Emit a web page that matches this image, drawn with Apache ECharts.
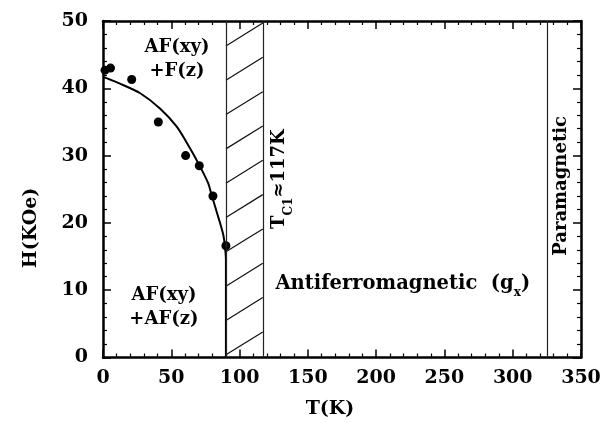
<!DOCTYPE html>
<html><head><meta charset="utf-8">
<script src="https://cdn.jsdelivr.net/npm/echarts@6/dist/echarts.min.js"></script>
<style>html,body{margin:0;padding:0;background:#fff}#chart{width:605px;height:423px}</style>
</head><body><div id="chart"></div>
<script>
// Measured critical field points, T in K, H in KOe
const measuredT = [1.5, 5.5, 21, 40.5, 60.5, 70.5, 80.5, 90];
const measuredH = [42.7, 43.0, 41.3, 35.0, 30.0, 28.5, 24.0, 16.6];
// Phase boundary between AF(xy)+F(z) and AF(xy)+AF(z)
const boundaryT = [0, 6.4, 12.4, 27, 41.7, 54, 63.7, 71, 77, 79.6, 85.1, 88.1, 89.3, 90, 90];
const boundaryH = [41.7, 41.2, 40.7, 39.3, 37.0, 34.3, 31.1, 28.4, 25.9, 24.1, 20.4, 18.2, 16.5, 14.5, 0];
// Transition temperatures (K): hatched band edges and the paramagnetic limit
const bandStartT = 90;
const tc1 = 117;
const paraT = 325;
// Axis tick values
const tTicks = [0, 50, 100, 150, 200, 250, 300, 350];
const hTicks = [0, 10, 20, 30, 40, 50];

const FONT = 'DejaVu Serif';
const zip = (a, b) => a.map((v, i) => [v, b[i]]);

const chart = echarts.init(document.getElementById('chart'), null, {renderer: 'canvas'});

const axisCommon = {
  type: 'value',
  axisLine: {show: true, onZero: false, lineStyle: {color: '#000', width: 2.5}},
  axisTick: {show: true, inside: true, length: 8, lineStyle: {color: '#000', width: 1.5}},
  minorTick: {show: true, inside: true, splitNumber: 5, length: 4, lineStyle: {color: '#000', width: 1.2}},
  splitLine: {show: false},
  minorSplitLine: {show: false}
};
const labelStyle = {fontFamily: FONT, fontWeight: 'bold', fontSize: 19, color: '#000'};

const xBase = Object.assign({}, axisCommon, {
  min: tTicks[0], max: tTicks[tTicks.length - 1], interval: tTicks[1] - tTicks[0]
});
const yBase = Object.assign({}, axisCommon, {
  min: hTicks[0], max: hTicks[hTicks.length - 1], interval: hTicks[1] - hTicks[0]
});

// Rich text styles: regular bold text and lowered subscripts
const rich = {
  b: {fontFamily: FONT, fontWeight: 'bold', fontSize: 18, color: '#000', lineHeight: 24, verticalAlign: 'top'},
  B: {fontFamily: FONT, fontWeight: 'bold', fontSize: 19.5, color: '#000', lineHeight: 24, verticalAlign: 'top'},
  s: {fontFamily: FONT, fontWeight: 'bold', fontSize: 12, color: '#000', lineHeight: 12, verticalAlign: 'top', padding: [13, 0, 0, 0]}
};
// Region annotations placed in data coordinates
const notes = [
  {value: [54.2, 43.9], text: '{b|AF(xy)}\n{b|+F(z)}', rotate: 0},
  {value: [44.6, 6.95], text: '{b|AF(xy)}\n{b|+AF(z)}', rotate: 0},
  {value: [131.0, 26.5], text: '{b|T}{s|C1}{b|≈117K}', rotate: 90},
  {value: [337.5, 25.5], text: '{b|Paramagnetic}', rotate: 90},
  {value: [219.5, 10.7], text: '{B|Antiferromagnetic  (g}{s|x}{B|)}', rotate: 0}
];

chart.setOption({
  animation: false,
  backgroundColor: '#fff',
  grid: {left: 103, right: 24, top: 21, bottom: 65.5, containLabel: false, outerBoundsMode: 'none'},
  xAxis: [
    Object.assign({}, xBase, {position: 'bottom',
      axisLabel: Object.assign({margin: 11, showMinLabel: true, showMaxLabel: true}, labelStyle)}),
    Object.assign({}, xBase, {position: 'top', axisLabel: {show: false}})
  ],
  yAxis: [
    Object.assign({}, yBase, {position: 'left',
      axisLabel: Object.assign({margin: 15, showMinLabel: true, showMaxLabel: true}, labelStyle)}),
    Object.assign({}, yBase, {position: 'right', axisLabel: {show: false}})
  ],
  graphic: [
    {type: 'text', x: 330, y: 409,
      style: Object.assign({text: 'T(K)', align: 'center', verticalAlign: 'middle'}, labelStyle)},
    {type: 'text', x: 31, y: 228, rotation: Math.PI / 2,
      style: Object.assign({text: 'H(KOe)', align: 'center', verticalAlign: 'middle'}, labelStyle)}
  ],
  series: [
    {
      // diagonal hatching across the band between bandStartT and tc1
      type: 'custom',
      silent: true,
      data: [0, 1, 2, 3, 4, 5, 6, 7, 8, 9].map(k => [k, 0]),
      renderItem: function (params, api) {
        const k = api.value(0);
        const p0 = api.coord([bandStartT, 0.4 + 5.1 * k]);
        const p1 = api.coord([tc1, 3.8 + 5.1 * k]);
        return {type: 'line', shape: {x1: p0[0], y1: p0[1], x2: p1[0], y2: p1[1]},
          style: {stroke: '#111', lineWidth: 1.2}};
      },
      z: 1
    },
    {
      type: 'line',
      data: zip(boundaryT, boundaryH),
      showSymbol: false,
      smooth: 0.25,
      lineStyle: {color: '#000', width: 2},
      silent: true,
      z: 3,
      markLine: {
        silent: true,
        symbol: 'none',
        label: {show: false},
        lineStyle: {color: '#222', width: 1.2, type: 'solid'},
        data: [{xAxis: bandStartT}, {xAxis: tc1}, {xAxis: paraT}]
      }
    },
    {
      type: 'scatter',
      data: zip(measuredT, measuredH),
      symbol: 'circle',
      symbolSize: 9,
      itemStyle: {color: '#000', opacity: 1},
      z: 4
    },
    {
      type: 'scatter',
      symbolSize: 0,
      silent: true,
      z: 5,
      itemStyle: {opacity: 1},
      data: notes.map(n => ({
        value: n.value,
        label: {show: true, position: 'inside', rotate: n.rotate, align: 'center', verticalAlign: 'middle',
          color: '#000', opacity: 1, formatter: n.text, rich: rich}
      }))
    }
  ]
});
</script></body></html>
